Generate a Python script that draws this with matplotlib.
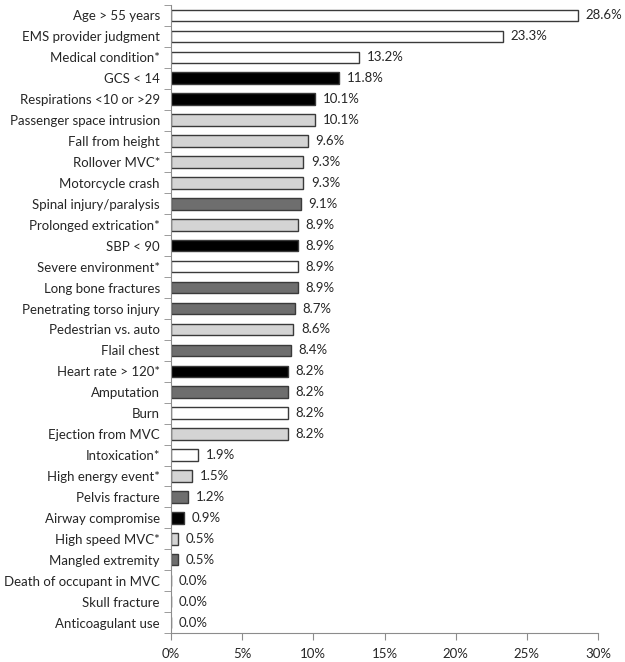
import matplotlib
matplotlib.use("Agg")
import matplotlib.pyplot as plt
import numpy as np
from matplotlib.ticker import FixedLocator, PercentFormatter

# ---------------------------------------------------------------
#  Data (top to bottom as in the chart)
# ---------------------------------------------------------------
CRITERIA = [
    "Age > 55 years", "EMS provider judgment", "Medical condition*",
    "GCS < 14", "Respirations <10 or >29", "Passenger space intrusion",
    "Fall from height", "Rollover MVC*", "Motorcycle crash",
    "Spinal injury/paralysis", "Prolonged extrication*", "SBP < 90",
    "Severe environment*", "Long bone fractures", "Penetrating torso injury",
    "Pedestrian vs. auto", "Flail chest", "Heart rate > 120*",
    "Amputation", "Burn", "Ejection from MVC", "Intoxication*",
    "High energy event*", "Pelvis fracture", "Airway compromise",
    "High speed MVC*", "Mangled extremity", "Death of occupant in MVC",
    "Skull fracture", "Anticoagulant use",
]
PERCENT = [
    28.6, 23.3, 13.2, 11.8, 10.1, 10.1, 9.6, 9.3, 9.3, 9.1,
    8.9, 8.9, 8.9, 8.9, 8.7, 8.6, 8.4, 8.2, 8.2, 8.2,
    8.2, 1.9, 1.5, 1.2, 0.9, 0.5, 0.5, 0.0, 0.0, 0.0,
]
# criterion group: W = other, B = physiologic, D = anatomic, L = mechanism
GROUP = list("WWWBBLLLLDLBWDDLDBDWLWLDBLDWLW")

GROUP_COLORS = {"W": "#ffffff", "B": "#000000", "D": "#6e6e6e", "L": "#d4d4d4"}
EDGE = "#3a3a3a"
AXIS_GRAY = "#8c8c8c"
TEXT = "#262626"

plt.rcParams["font.family"] = ["Lato", "DejaVu Sans"]

fig = plt.figure(figsize=(6.25, 6.62), dpi=100)
ax = fig.add_axes([0.2736, 0.0438, 0.6832, 0.9487])

n = len(CRITERIA)
y = np.arange(n)
ax.barh(y, PERCENT, height=0.55,
        color=[GROUP_COLORS[g] for g in GROUP],
        edgecolor=EDGE, linewidth=1.0)

for yi, v in zip(y, PERCENT):
    ax.text(v + 0.55, yi, f"{v:.1f}%", va="center", ha="left",
            fontsize=9.5, color=TEXT)

ax.set_ylim(n - 0.5, -0.5)
ax.set_xlim(0, 30)
ax.set_yticks(y)
ax.set_yticklabels(CRITERIA, fontsize=9.5, color=TEXT)
ax.yaxis.set_minor_locator(FixedLocator(np.arange(-0.5, n, 1.0)))
ax.tick_params(axis="y", which="major", length=0, pad=8)
ax.tick_params(axis="y", which="minor", length=5, color=AXIS_GRAY, direction="out")

ax.set_xticks(np.arange(0, 31, 5))
ax.xaxis.set_major_formatter(PercentFormatter(decimals=0))
ax.tick_params(axis="x", length=5, color=AXIS_GRAY, labelsize=9.5,
               labelcolor=TEXT, pad=6)

for s in ("top", "right"):
    ax.spines[s].set_visible(False)
for s in ("left", "bottom"):
    ax.spines[s].set_color(AXIS_GRAY)

fig.savefig("out.png", dpi=100)
